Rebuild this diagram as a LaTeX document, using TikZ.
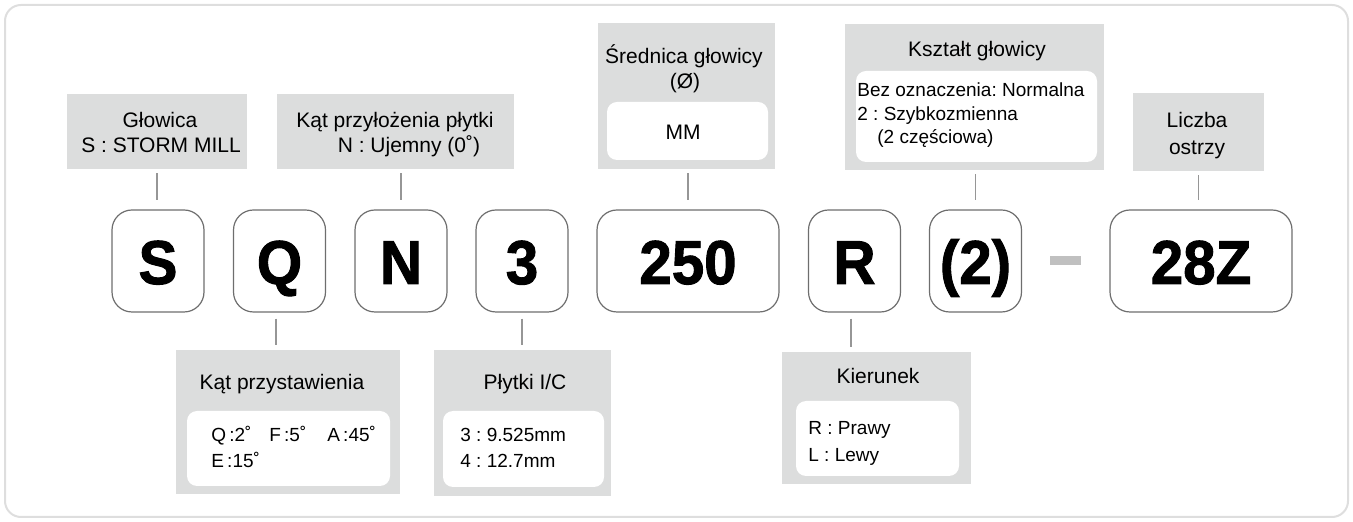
\documentclass[tikz,border=0pt]{standalone}
\usepackage{fontspec}
\setmainfont{Liberation Sans}
\newfontfamily\heavyfont{Liberation Sans}[BoldFeatures={FakeBold=1.6}]
\usepackage{graphicx}
\definecolor{boxgray}{RGB}{220,221,221}
\definecolor{edgegray}{RGB}{110,110,110}
\definecolor{conngray}{RGB}{150,150,150}
\definecolor{framegray}{RGB}{222,222,222}
\definecolor{dashgray}{RGB}{192,192,192}
\tikzset{
  graybox/.style={fill=boxgray, draw=none, rectangle, inner sep=0pt},
  whitebox/.style={fill=white, draw=none, rectangle, rounded corners=5pt, inner sep=0pt},
  mainbox/.style={draw=edgegray, line width=0.6pt, fill=white, rectangle, rounded corners=10pt, minimum height=51pt, inner sep=0pt},
  conn/.style={draw=conngray, line width=0.75pt},
  ttl/.style={font=\fontsize{10.5}{12}\selectfont, anchor=base, inner sep=0pt},
  bodyl/.style={font=\fontsize{9.5}{11}\selectfont, anchor=base west, inner sep=0pt},
  big/.style={font=\fontsize{31}{31}\selectfont\heavyfont\bfseries, anchor=base, inner sep=0pt},
}
\newcommand{\bigtxt}[1]{\scalebox{0.94}[1]{#1}}
\frenchspacing
\begin{document}
\frenchspacing
\begin{tikzpicture}[x=0.5pt,y=-0.5pt]
\useasboundingbox (0,0) rectangle (1353,522);
\draw[draw=framegray, line width=1pt, rounded corners=8pt] (5,5) rectangle (1348,517);

% ---- top gray boxes ----
\node[graybox, minimum width=90pt, minimum height=37.5pt] (g1) at (157,131.5) {};
\node[graybox, minimum width=118.5pt, minimum height=37.5pt] (g2) at (395.5,131.5) {};
\node[graybox, minimum width=88.5pt, minimum height=73pt] (g3) at (686.5,96) {};
\node[whitebox, minimum width=80.5pt, minimum height=29pt] (w3) at (687.5,131) {};
\node[graybox, minimum width=129.5pt, minimum height=73pt] (g4) at (974.5,97) {};
\node[whitebox, minimum width=120.5pt, minimum height=45.5pt] (w4) at (976.5,116.5) {};
\node[graybox, minimum width=65.5pt, minimum height=39pt] (g5) at (1198.5,132) {};

\node[ttl] (t1a) at (160,128) {Głowica};
\node[ttl] (t1b) at (161,153) {S : STORM MILL};
\node[ttl] (t2a) at (395,128) {Kąt przyłożenia płytki};
\node[ttl] (t2b) at (409,153) {N : Ujemny (0˚)};
\node[ttl] (t3a) at (684,64) {Średnica głowicy};
\node[ttl] (t3b) at (685,89) {(Ø)};
\node[ttl] (t3c) at (683,140) {MM};
\node[ttl] (t4a) at (977,57) {Kształt głowicy};
\node[bodyl] (t4b) at (857,97) {Bez oznaczenia: Normalna};
\node[bodyl] (t4c) at (857,120.5) {2 : Szybkozmienna};
\node[bodyl] (t4d) at (877,144) {(2 częściowa)};
\node[ttl] (t5a) at (1197,128) {Liczba};
\node[ttl] (t5b) at (1197,155) {ostrzy};

% ---- main row ----
\node[mainbox, minimum width=46pt] (mS) at (158,261) {};
\node[mainbox, minimum width=46pt] (mQ) at (279.5,261) {};
\node[mainbox, minimum width=46pt] (mN) at (401,261) {};
\node[mainbox, minimum width=46pt] (m3) at (522,261) {};
\node[mainbox, minimum width=91pt] (m250) at (688,261) {};
\node[mainbox, minimum width=46pt] (mR) at (854.5,261) {};
\node[mainbox, minimum width=46pt] (m2) at (975.5,261) {};
\node[mainbox, minimum width=91pt] (m28) at (1201,261) {};
\node[fill=dashgray, draw=none, inner sep=0pt, minimum width=15.5pt, minimum height=4.5pt] (dash) at (1065.5,260.5) {};

\node[big] (lS) at (158,284) {\bigtxt{S}};
\node[big] (lQ) at (279.5,284) {\bigtxt{Q}};
\node[big] (lN) at (401,284) {\bigtxt{N}};
\node[big] (l3) at (522,284) {\bigtxt{3}};
\node[big] (l250) at (688,284) {\bigtxt{250}};
\node[big] (lR) at (854.5,284) {\bigtxt{R}};
\node[big] (l2) at (975.5,284) {\bigtxt{(2)}};
\node[big] (l28) at (1201,284) {\bigtxt{28Z}};

% ---- bottom gray boxes ----
\node[graybox, minimum width=112pt, minimum height=72pt] (b1) at (288,422) {};
\node[whitebox, minimum width=101.5pt, minimum height=37.5pt] (v1) at (288.5,448.5) {};
\node[graybox, minimum width=88.5pt, minimum height=73pt] (b2) at (522.5,423) {};
\node[whitebox, minimum width=80.5pt, minimum height=38pt] (v2) at (523.5,449) {};
\node[graybox, minimum width=94.5pt, minimum height=66pt] (b3) at (876.5,418) {};
\node[whitebox, minimum width=81.5pt, minimum height=37.5pt] (v3) at (877.5,438.5) {};

\node[ttl] (u1a) at (282,390) {Kąt przystawienia};
\node[bodyl] (u1b) at (211,442) {\makebox[29pt][l]{Q\,:2˚}\makebox[29pt][l]{F\,:5˚}A\,:45˚};
\node[bodyl] (u1c) at (211,468) {E\,:15˚};
\node[ttl] (u2a) at (525,390) {Płytki I/C};
\node[bodyl] (u2b) at (460,442) {3 : 9.525mm};
\node[bodyl] (u2c) at (460,468) {4 : 12.7mm};
\node[ttl] (u3a) at (878,384) {Kierunek};
\node[bodyl] (u3b) at (808,435) {R : Prawy};
\node[bodyl] (u3c) at (808,462) {L : Lewy};

% ---- connectors ----
\draw[conn, shorten <=2pt, shorten >=4.5pt] (g1.south) -- (g1.south |- mS.north);
\draw[conn, shorten <=2pt, shorten >=4.5pt] (mN.north |- g2.south) -- (mN.north);
\draw[conn, shorten <=2pt, shorten >=4.5pt] (m250.north |- g3.south) -- (m250.north);
\draw[conn, shorten <=2pt, shorten >=4.5pt] (m2.north |- g4.south) -- (m2.north);
\draw[conn, shorten <=2pt, shorten >=4.5pt] (g5.south) -- (g5.south |- m28.north);
\draw[conn, shorten <=3pt, shorten >=2.5pt] ([xshift=-1.75pt]mQ.south) -- ([xshift=-1.75pt]mQ.south |- b1.north);
\draw[conn, shorten <=3pt, shorten >=2.5pt] (m3.south) -- (m3.south |- b2.north);
\draw[conn, shorten <=3pt, shorten >=2.5pt] ([xshift=-1.75pt]mR.south) -- ([xshift=-1.75pt]mR.south |- b3.north);
\end{tikzpicture}
\end{document}
